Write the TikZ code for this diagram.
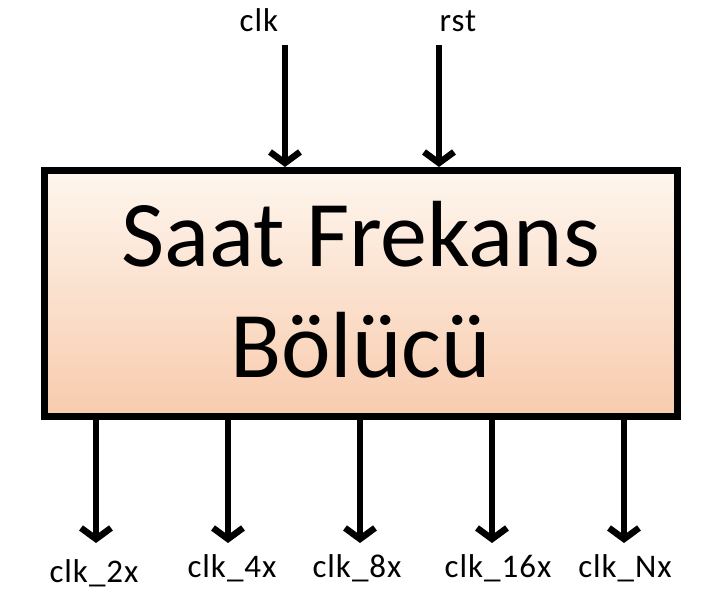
\documentclass[tikz,border=0pt]{standalone}
\usepackage{fontspec}
\setmainfont{Carlito}
\newfontfamily\labfont[LetterSpace=3]{Carlito}
\usetikzlibrary{arrows.meta}
\definecolor{gradtop}{HTML}{FEF6EE}
\definecolor{gradbot}{HTML}{F8CBAD}
\tikzset{
  blockbox/.style={draw=black, line width=7pt, top color=gradtop, bottom color=gradbot, inner sep=0pt},
  sigarrow/.style={line width=6.5pt, -{Straight Barb[length=11pt,width=30pt,line width=6.5pt]}},
  siglabel/.style={anchor=base, inner sep=0pt, font=\labfont\fontsize{33}{40}\selectfont},
  bigtext/.style={anchor=base, inner sep=0pt, font=\fontsize{94}{111}\selectfont}
}
\begin{document}
\begin{tikzpicture}[x=1pt,y=-1pt]
\useasboundingbox (0,0) rectangle (710,593);
\node[blockbox, minimum width=632.5pt, minimum height=246.5pt] (box) at (360.75,293.75) {};
\node[bigtext] (t1) at (360.5,267) {Saat Frekans};
\node[bigtext] (t2) at (360.5,378) {Bölücü};
% inputs
\coordinate (clkin) at (285,45);
\coordinate (rstin) at (439,45);
\node[siglabel] (lclk) at (259,32) {clk};
\node[siglabel] (lrst) at (458,32) {rst};
\draw[sigarrow] (clkin) -- (clkin |- box.north);
\draw[sigarrow] (rstin) -- (rstin |- box.north);
% outputs
\coordinate (o1) at (96,543);
\coordinate (o2) at (228,543);
\coordinate (o3) at (360,543);
\coordinate (o4) at (492,543);
\coordinate (o5) at (624,543);
\foreach \c in {o1,o2,o3,o4,o5}{
  \draw[sigarrow] (\c |- box.south) -- (\c);
}
\node[siglabel] (l1) at (94,582) {clk\_2x};
\node[siglabel] (l2) at (232,577) {clk\_4x};
\node[siglabel] (l3) at (357,577) {clk\_8x};
\node[siglabel] (l4) at (498,577) {clk\_16x};
\node[siglabel] (l5) at (625,577) {clk\_Nx};
\end{tikzpicture}
\end{document}
